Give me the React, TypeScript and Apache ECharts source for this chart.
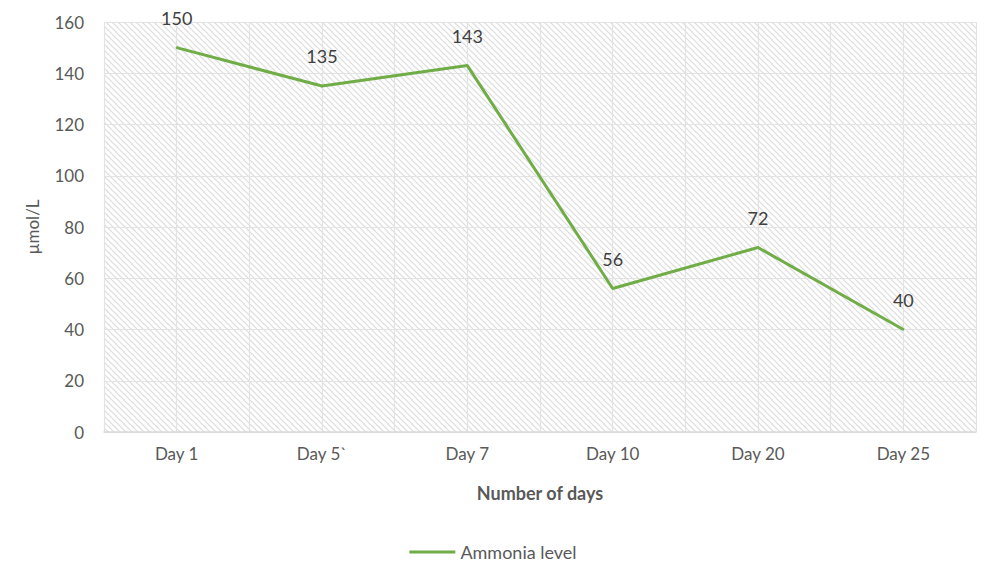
import React, { useEffect, useRef } from "react";
import * as echarts from "echarts";

const categories = ["Day 1", "Day 5`", "Day 7", "Day 10", "Day 20", "Day 25"];
const ammonia = [150, 135, 143, 56, 72, 40];
const seriesName = "Ammonia level";
const yTitle = "µmol/L";
const xTitle = "Number of days";
const halfSlots = ["", "", "", "", "", "", "", "", "", "", "", ""];

const FONT = "Lato, 'Open Sans', sans-serif";

const hatchSvg =
  "data:image/svg+xml;utf8," +
  encodeURIComponent(
    "<svg xmlns='http://www.w3.org/2000/svg' width='6' height='6'>" +
      "<rect width='6' height='6' fill='#ffffff'/>" +
      "<path d='M-1,-1 L7,7 M-4,2 L4,10 M2,-4 L10,4' stroke='#dcdcdc' stroke-width='1.2'/>" +
      "</svg>"
  );

export default function App() {
  const ref = useRef<HTMLDivElement>(null);
  useEffect(() => {
    if (!ref.current) return;
    const chart = echarts.init(ref.current, undefined, { renderer: "svg" });
    const img = new Image();
    img.src = hatchSvg;
    chart.setOption({
      animation: false,
      textStyle: { fontFamily: FONT },
      grid: {
        left: 104,
        right: 10,
        top: 22,
        bottom: 138,
        show: true,
        borderWidth: 0,
        backgroundColor: { image: img, repeat: "repeat" } as any,
      },
      legend: {
        bottom: 4,
        left: "center",
        icon: "rect",
        itemWidth: 46,
        itemHeight: 3,
        itemGap: 4,
        textStyle: { color: "#595959", fontSize: 18, fontFamily: FONT },
        data: [{ name: seriesName, itemStyle: { color: "#70ad47", opacity: 1 } }],
      },
      xAxis: [
        {
          type: "category",
          data: categories,
          boundaryGap: true,
          axisLine: { lineStyle: { color: "#d9d9d9", width: 1.5 } },
          axisTick: { show: false },
          axisLabel: { color: "#595959", fontSize: 17, margin: 13, fontFamily: FONT },
          splitLine: { show: false },
          name: xTitle,
          nameLocation: "middle",
          nameGap: 52,
          nameTextStyle: { color: "#595959", fontSize: 18, fontWeight: "bold", fontFamily: FONT },
        },
        {
          type: "category",
          data: halfSlots,
          boundaryGap: true,
          position: "bottom",
          axisLine: { show: false },
          axisTick: { show: false },
          axisLabel: { show: false },
          splitLine: { show: true, lineStyle: { color: "#e3e3e3", width: 1.2 } },
        },
      ],
      yAxis: {
        type: "value",
        min: 0,
        max: 160,
        interval: 20,
        axisLine: { show: false },
        axisTick: { show: false },
        axisLabel: { color: "#595959", fontSize: 17, margin: 20, fontFamily: FONT },
        splitLine: { lineStyle: { color: "#e3e3e3", width: 1.2 } },
        name: yTitle,
        nameLocation: "middle",
        nameGap: 63,
        nameRotate: 90,
        nameTextStyle: { color: "#595959", fontSize: 17, fontFamily: FONT },
      },
      series: [
        {
          name: seriesName,
          type: "line",
          xAxisIndex: 0,
          data: ammonia,
          symbol: "circle",
          symbolSize: 2,
          showSymbol: true,
          lineStyle: { color: "#70ad47", width: 3 },
          itemStyle: { color: "#70ad47", borderWidth: 0 },
          label: {
            show: true,
            position: "top",
            distance: 20,
            color: "#404040",
            fontSize: 18,
            fontFamily: FONT,
          },
        },
      ],
    });
    img.onload = () => {
      chart.setOption({ grid: { backgroundColor: { image: img, repeat: "repeat" } as any } });
    };
    return () => chart.dispose();
  }, []);
  return (
    <div
      ref={ref}
      style={{ position: "absolute", left: 0, top: 0, width: 986, height: 570 }}
    />
  );
}
